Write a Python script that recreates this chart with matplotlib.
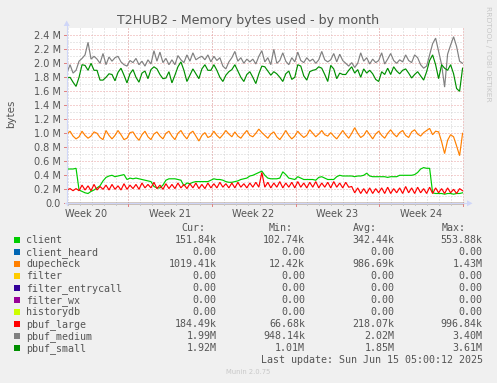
import numpy as np
import matplotlib
matplotlib.use('Agg')
import matplotlib.pyplot as plt
from matplotlib.patches import Polygon, Rectangle
from matplotlib.lines import Line2D

# ---------------- data (values in millions of bytes, 6-hour steps over the month) ----------------
week_labels = ["Week 20", "Week 21", "Week 22", "Week 23", "Week 24"]
y_tick_labels = ["0.0", "0.2 M", "0.4 M", "0.6 M", "0.8 M", "1.0 M", "1.2 M", "1.4 M",
                 "1.6 M", "1.8 M", "2.0 M", "2.2 M", "2.4 M"]

client = [0.49, 0.49, 0.49, 0.50, 0.19, 0.17, 0.15, 0.14, 0.17, 0.19, 0.22, 0.25, 0.32, 0.37,
          0.39, 0.40, 0.38, 0.39, 0.40, 0.41, 0.34, 0.36, 0.35, 0.36, 0.35, 0.34, 0.33, 0.32,
          0.31, 0.24, 0.22, 0.22, 0.26, 0.33, 0.35, 0.35, 0.35, 0.34, 0.33, 0.25, 0.29, 0.28,
          0.30, 0.31, 0.31, 0.31, 0.31, 0.31, 0.33, 0.35, 0.34, 0.34, 0.33, 0.31, 0.30, 0.30,
          0.31, 0.32, 0.34, 0.35, 0.36, 0.39, 0.40, 0.42, 0.44, 0.46, 0.40, 0.36, 0.35, 0.35,
          0.35, 0.36, 0.45, 0.41, 0.36, 0.35, 0.34, 0.38, 0.36, 0.34, 0.34, 0.34, 0.34, 0.33,
          0.37, 0.38, 0.36, 0.34, 0.34, 0.34, 0.38, 0.40, 0.39, 0.39, 0.39, 0.39, 0.38, 0.39,
          0.39, 0.40, 0.43, 0.39, 0.38, 0.38, 0.38, 0.38, 0.38, 0.37, 0.38, 0.38, 0.38, 0.40,
          0.40, 0.40, 0.40, 0.40, 0.41, 0.44, 0.49, 0.51, 0.50, 0.50, 0.15, 0.14, 0.14, 0.14,
          0.13, 0.14, 0.14, 0.13, 0.14, 0.14, 0.15]

dupecheck = [0.99, 1.03, 0.96, 0.92, 0.95, 1.03, 0.97, 0.93, 0.96, 1.02, 1.00, 0.94,
             0.91, 1.04, 0.97, 0.92, 0.97, 1.04, 0.98, 0.91, 0.93, 1.01, 1.02, 0.95,
             0.90, 0.98, 1.03, 0.95, 0.91, 0.99, 1.02, 0.96, 0.92, 1.00, 1.03, 0.96,
             0.91, 1.00, 1.04, 0.97, 0.92, 1.00, 1.03, 0.96, 0.89, 0.97, 1.01, 0.94,
             0.96, 1.03, 0.97, 0.93, 0.98, 1.04, 0.99, 0.95, 1.02, 0.96, 0.93, 0.99,
             1.04, 0.97, 0.95, 1.00, 1.06, 1.01, 0.97, 0.93, 0.99, 1.02, 0.95, 0.91,
             0.97, 1.04, 0.97, 0.92, 0.96, 1.03, 0.98, 0.94, 0.97, 1.05, 1.00, 0.95,
             0.99, 1.04, 0.98, 0.96, 1.01, 0.96, 0.92, 0.98, 1.04, 0.98, 0.93, 1.00,
             1.08, 1.00, 0.94, 0.97, 1.04, 0.98, 0.92, 0.99, 1.03, 0.97, 0.93, 1.00,
             1.05, 0.99, 0.95, 1.01, 1.04, 0.97, 0.94, 1.02, 1.05, 0.99, 0.96, 1.01,
             1.04, 1.07, 0.98, 1.03, 1.02, 0.88, 0.71, 0.90, 0.98, 0.95, 0.82, 0.68,
             1.00]

pbuf_large = [0.19, 0.21, 0.18, 0.21, 0.18,
              0.26, 0.19, 0.25, 0.18, 0.27, 0.19, 0.24, 0.20, 0.26, 0.19, 0.27, 0.20, 0.25,
              0.19, 0.28, 0.20, 0.26, 0.21, 0.27, 0.20, 0.29, 0.22, 0.27, 0.22, 0.30, 0.21,
              0.26, 0.20, 0.28, 0.21, 0.27, 0.21, 0.29, 0.22, 0.27, 0.21, 0.28, 0.22, 0.29,
              0.21, 0.27, 0.21, 0.29, 0.22, 0.28, 0.22, 0.30, 0.23, 0.28, 0.22, 0.29, 0.22,
              0.30, 0.23, 0.28, 0.22, 0.29,
              0.23, 0.30, 0.23, 0.44, 0.23, 0.30, 0.22, 0.29, 0.23, 0.31, 0.22, 0.29, 0.23,
              0.30, 0.22, 0.31, 0.23, 0.29, 0.22, 0.30, 0.23, 0.31, 0.22, 0.29, 0.23, 0.30,
              0.22, 0.31, 0.23, 0.29, 0.22, 0.30, 0.23, 0.24,
              0.15, 0.22, 0.14, 0.21, 0.14, 0.22, 0.14, 0.21, 0.15, 0.22, 0.14, 0.23, 0.14,
              0.21, 0.15, 0.22, 0.14, 0.24, 0.15, 0.22, 0.14, 0.23, 0.15, 0.21, 0.14, 0.23,
              0.14, 0.22, 0.15, 0.21, 0.14, 0.22, 0.15, 0.20, 0.14, 0.21, 0.18]

pbuf_medium = [1.87, 1.98, 1.86, 1.90, 2.03, 2.07, 2.12, 2.30, 2.06, 2.10, 2.06, 2.00,
               2.14, 1.98, 2.09, 2.03, 2.08, 2.10, 2.02, 1.98, 1.96, 2.04, 2.01, 2.07,
               1.98, 2.03, 1.96, 2.05, 1.99, 2.18, 2.03, 2.16, 2.01, 2.07, 1.98, 2.05,
               1.98, 2.11, 2.05, 2.01, 2.12, 2.03, 2.15, 2.05, 2.08,
               2.10, 2.05, 2.12, 2.02, 2.10, 2.04, 2.08, 1.96, 1.92, 2.02, 2.08, 2.17,
               2.03, 2.08, 2.00, 2.06, 2.02, 2.06, 1.99, 2.10, 2.18, 2.02, 2.08, 1.98,
               2.20, 2.00, 2.04, 2.15, 2.03, 1.98, 2.08, 2.02, 2.16, 2.04, 2.01, 2.08,
               2.03, 2.06, 2.00, 2.05, 2.17, 2.05, 2.02,
               2.05, 2.14, 2.02, 2.13, 2.04, 2.00, 1.96, 2.01, 1.94, 2.00, 2.15, 2.03,
               2.08, 1.99, 2.06, 2.01, 2.04, 2.15, 1.99, 2.06, 2.14, 2.04, 2.00, 2.05,
               2.02, 2.12, 2.04, 2.01, 2.12, 2.08, 1.98, 1.93, 1.96, 2.12, 2.28, 2.36,
               2.17, 1.98, 1.66, 2.13, 2.26, 2.38, 2.24, 2.03, 2.00]

pbuf_small = [1.79, 1.80, 1.73, 1.67, 1.80, 1.98, 1.97, 1.90, 2.00, 1.90, 1.90, 1.76,
              1.76, 1.80, 1.85, 1.84, 1.75, 1.87, 1.93, 1.83, 1.72, 1.85, 1.91, 1.80,
              1.73, 1.86, 1.89, 1.78, 1.91, 1.95, 1.92, 1.84, 1.78, 1.79, 1.88, 1.72,
              1.83, 1.95, 2.02, 1.90, 1.74, 1.83, 1.92, 1.85, 1.78,
              1.92, 1.98, 1.90, 1.90, 1.98, 1.90, 1.80, 1.74, 1.83, 1.88, 1.91, 1.98,
              1.89, 1.80, 1.74, 1.84, 1.88, 1.80, 1.71, 1.85, 1.96, 1.95, 1.89, 1.83,
              1.88, 1.85, 1.80, 1.74, 1.85, 1.89, 1.77, 1.80, 1.98, 1.96, 1.82, 1.76,
              1.88, 1.90, 1.91, 1.95, 1.93, 1.84, 1.74,
              1.97, 1.92, 1.78, 1.86, 1.84, 1.84, 1.90, 1.95, 1.86, 1.91, 1.80, 1.92,
              1.86, 1.90, 1.85, 1.77, 1.74, 1.88, 1.84, 1.93, 1.84, 1.95, 1.89, 1.85,
              1.90, 1.92, 1.86, 1.79, 1.84, 1.88, 1.82, 1.76, 1.88, 2.04, 2.12, 1.98,
              1.78, 1.98, 1.93, 1.90, 1.98, 1.85, 1.64, 1.60, 1.93]

zero_series = [0.0, 0.0]  # client_heard, filter, filter_entrycall, filter_wx, historydb

legend_names = ["client", "client_heard", "dupecheck", "filter", "filter_entrycall",
                "filter_wx", "historydb", "pbuf_large", "pbuf_medium", "pbuf_small"]
legend_colors = ["#00CC00", "#0066B3", "#FF8000", "#FFCC00", "#330099",
                 "#990099", "#CCFF00", "#FF0000", "#808080", "#008F00"]
cur_vals = ["151.84k", "0.00", "1019.41k", "0.00", "0.00", "0.00", "0.00", "184.49k", "1.99M", "1.92M"]
min_vals = ["102.74k", "0.00", "12.42k", "0.00", "0.00", "0.00", "0.00", "66.68k", "948.14k", "1.01M"]
avg_vals = ["342.44k", "0.00", "986.69k", "0.00", "0.00", "0.00", "0.00", "218.07k", "2.02M", "1.85M"]
max_vals = ["553.88k", "0.00", "1.43M", "0.00", "0.00", "0.00", "0.00", "996.84k", "3.40M", "3.61M"]

series = {
    "client": client, "dupecheck": dupecheck, "pbuf_large": pbuf_large,
    "pbuf_medium": pbuf_medium, "pbuf_small": pbuf_small,
}

# ---------------- layout ----------------
W, H = 497, 383
FG = "#555555"
fig = plt.figure(figsize=(W / 100, H / 100), dpi=100, facecolor="#F0F0F0")


def fx(x):
    return x / W


def fy(y):
    return 1 - y / H


L, R, T, B = 66.7, 463.3, 28.3, 203.3
ax = fig.add_axes([fx(L), fy(B), (R - L) / W, (B - T) / H])
ax.set_facecolor("white")
XMAX = 33.09
ax.set_xlim(0, XMAX)
ax.set_ylim(0, 2.5)
for s in ax.spines.values():
    s.set_visible(False)
ax.set_xticks([])
ax.set_yticks([])

minor_days = np.arange(0.09, XMAX, 1.0)
major_days = 5.09 + 7 * np.arange(5)
minor_col = "#d2d2d2"
major_col = "#eba3a3"
for d in minor_days:
    ax.axvline(d, color=minor_col, lw=0.72, ls=(0, (1, 2)), zorder=1)
for v in np.arange(0.1, 2.5, 0.2):
    ax.axhline(v, color=minor_col, lw=0.72, ls=(0, (1, 2)), zorder=1)
for d in major_days:
    ax.axvline(d, color=major_col, lw=0.72, ls=(0, (1, 2)), zorder=2, clip_on=False)
for v in np.arange(0.2, 2.45, 0.2):
    ax.axhline(v, color=major_col, lw=0.72, ls=(0, (1, 2)), zorder=2)

# y tick labels
ytr = ax.get_yaxis_transform()
for i, lab in enumerate(y_tick_labels):
    ax.text(-6.0 / (R - L), i * 0.2, lab, transform=ytr, ha="right", va="center_baseline",
            fontsize=7, color=FG, family="DejaVu Sans")
# x week labels (centred in the week)
xtr = ax.get_xaxis_transform()
for i, lab in enumerate(week_labels):
    ax.text(major_days[i] - 3.5, -(216.7 - B) / (B - T), lab, transform=xtr, ha="center",
            va="baseline", fontsize=7, color=FG, family="DejaVu Sans")

# data lines (munin draw order)
zero_x = [0, 33.03]
order = ["client", "client_heard", "dupecheck", "filter", "filter_entrycall",
         "filter_wx", "historydb", "pbuf_large", "pbuf_medium", "pbuf_small"]
for z, name in enumerate(order):
    col = legend_colors[legend_names.index(name)]
    if name in series:
        vals = np.array(series[name])
        xs = np.linspace(0.03, 33.03, len(vals))
        ax.plot(xs, vals, color=col, lw=0.85, zorder=4 + z, solid_joinstyle="miter")
    else:
        ax.plot(zero_x, zero_series, color=col, lw=0.85, zorder=4 + z, clip_on=False)

# axes with arrows
axis_col = "#CFD6F8"
fig.add_artist(Line2D([fx(L), fx(L)], [fy(B + 2), fy(24)], color=axis_col, lw=0.8, zorder=3))
fig.add_artist(Line2D([fx(L - 2), fx(468)], [fy(B), fy(B)], color=axis_col, lw=0.8, zorder=3))
fig.add_artist(Polygon([[fx(L - 3), fy(26)], [fx(L + 3), fy(26)], [fx(L), fy(20.5)]],
                       closed=True, transform=fig.transFigure, color=axis_col, lw=0))
fig.add_artist(Polygon([[fx(467), fy(B - 3)], [fx(467), fy(B + 3)], [fx(472.5), fy(B)]],
                       closed=True, transform=fig.transFigure, color=axis_col, lw=0))
# small ticks
for d in minor_days:
    px = L + d / XMAX * (R - L)
    fig.add_artist(Line2D([fx(px), fx(px)], [fy(B), fy(B + 2)], color="#c8c8c8", lw=0.7))
for d in major_days:
    px = L + d / XMAX * (R - L)
    fig.add_artist(Line2D([fx(px), fx(px)], [fy(B), fy(B + 3)], color="#e08080", lw=0.7))
for i in range(13):
    py = B - i * 0.2 / 2.5 * (B - T)
    fig.add_artist(Line2D([fx(L - 3), fx(L)], [fy(py), fy(py)], color="#e08080", lw=0.7))

# title and side texts
fig.text(fx(247.8), fy(24), "T2HUB2 - Memory bytes used - by month", ha="center",
         va="baseline", fontsize=9.1, color=FG, family="DejaVu Sans")
fig.text(fx(11), fy(114), "bytes", rotation=90, ha="center", va="center", fontsize=7.4,
         color=FG, family="DejaVu Sans")
fig.text(fx(488), fy(53.5), "RRDTOOL / TOBI OETIKER", rotation=270, ha="center",
         va="center", fontsize=5.4, color="#c8c8c8", family="DejaVu Sans")
fig.text(fx(247.8), fy(372.3), "Munin 2.0.75", ha="center", va="center", fontsize=4.9,
         color="#c8c8c8", family="DejaVu Sans")

# legend
mono = dict(fontsize=7.2, color=FG, family="DejaVu Sans Mono", va="baseline")
hdr_y = 231.0
for lab, xl in zip(["Cur:", "Min:", "Avg:", "Max:"], [181.0, 269.0, 352.7, 441.7]):
    fig.text(fx(xl), fy(hdr_y), lab, ha="left", **mono)
for i, name in enumerate(legend_names):
    base = 243.3 + 12 * i
    fig.add_artist(Rectangle((fx(14), fy(base)), 6 / W, 6 / H, transform=fig.transFigure,
                             color=legend_colors[i], lw=0))
    fig.text(fx(26.3), fy(base), name, ha="left", **mono)
    for vals, xr in zip([cur_vals, min_vals, avg_vals, max_vals], [216.7, 305.0, 394.3, 482.7]):
        fig.text(fx(xr), fy(base), vals[i], ha="right", **mono)
fig.text(fx(482.7), fy(363.3), "Last update: Sun Jun 15 05:00:12 2025", ha="right", **mono)

fig.savefig("out.png", dpi=100, facecolor=fig.get_facecolor())
